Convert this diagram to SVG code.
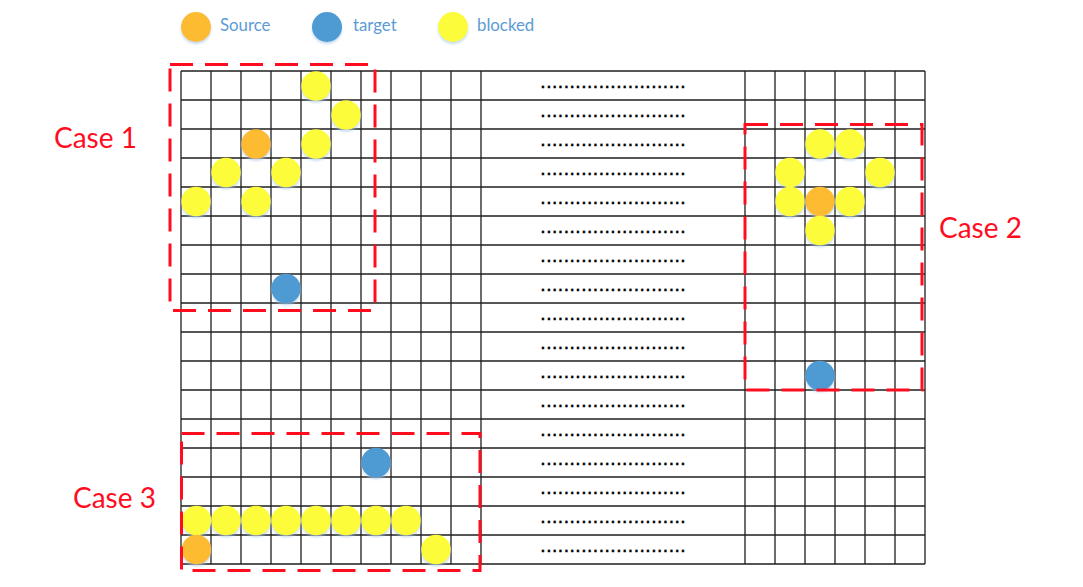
<svg xmlns="http://www.w3.org/2000/svg" width="1083" height="587" viewBox="0 0 1083 587">
<defs>
<style>
.grid line{stroke:#1e1e1e;stroke-width:1.3}
.box{fill:none;stroke:#ff0d1f;stroke-width:3;stroke-dasharray:23 12}
.src{fill:#fdbb33}
.tgt{fill:#4e9bd2}
.blk{fill:#fdfc3a}
.dots{font-family:"Liberation Sans",Arial,sans-serif;font-size:21px;fill:#000;stroke:#000;stroke-width:0.3;text-anchor:middle}
.case{font-family:Lato,"Open Sans",sans-serif;font-size:28px;fill:#ff0d1f}
.leg{font-family:Lato,"Open Sans",sans-serif;font-size:16.8px;fill:#5b9bd5}
circle{filter:url(#sh)}
</style>
<filter id="sh" x="-30%" y="-30%" width="160%" height="170%">
<feDropShadow dx="0" dy="2" stdDeviation="1.2" flood-color="#9dc3e6" flood-opacity="0.6"/>
</filter>
</defs>
<rect width="1083" height="587" fill="#fff"/>

<g id="legend">
<circle class="src" cx="196" cy="27" r="15"/>
<text class="leg" x="220" y="31">Source</text>
<circle class="tgt" cx="327" cy="27" r="15"/>
<text class="leg" x="353" y="31">target</text>
<circle class="blk" cx="453" cy="27" r="15"/>
<text class="leg" x="477" y="31">blocked</text>
</g>

<g id="grid" class="grid">
<line x1="181" y1="71" x2="925" y2="71"/>
<line x1="181" y1="100" x2="925" y2="100"/>
<line x1="181" y1="129" x2="925" y2="129"/>
<line x1="181" y1="158" x2="925" y2="158"/>
<line x1="181" y1="187" x2="925" y2="187"/>
<line x1="181" y1="216" x2="925" y2="216"/>
<line x1="181" y1="245" x2="925" y2="245"/>
<line x1="181" y1="274" x2="925" y2="274"/>
<line x1="181" y1="303" x2="925" y2="303"/>
<line x1="181" y1="332" x2="925" y2="332"/>
<line x1="181" y1="361" x2="925" y2="361"/>
<line x1="181" y1="390" x2="925" y2="390"/>
<line x1="181" y1="419" x2="925" y2="419"/>
<line x1="181" y1="448" x2="925" y2="448"/>
<line x1="181" y1="477" x2="925" y2="477"/>
<line x1="181" y1="506" x2="925" y2="506"/>
<line x1="181" y1="535" x2="925" y2="535"/>
<line x1="181" y1="564" x2="925" y2="564"/>
<line x1="181" y1="71" x2="181" y2="564"/>
<line x1="211" y1="71" x2="211" y2="564"/>
<line x1="241" y1="71" x2="241" y2="564"/>
<line x1="271" y1="71" x2="271" y2="564"/>
<line x1="301" y1="71" x2="301" y2="564"/>
<line x1="331" y1="71" x2="331" y2="564"/>
<line x1="361" y1="71" x2="361" y2="564"/>
<line x1="391" y1="71" x2="391" y2="564"/>
<line x1="421" y1="71" x2="421" y2="564"/>
<line x1="451" y1="71" x2="451" y2="564"/>
<line x1="481" y1="71" x2="481" y2="564"/>
<line x1="745" y1="71" x2="745" y2="564"/>
<line x1="775" y1="71" x2="775" y2="564"/>
<line x1="805" y1="71" x2="805" y2="564"/>
<line x1="835" y1="71" x2="835" y2="564"/>
<line x1="865" y1="71" x2="865" y2="564"/>
<line x1="895" y1="71" x2="895" y2="564"/>
<line x1="925" y1="71" x2="925" y2="564"/>
</g>

<g id="ellipsis">
<text class="dots" x="613" y="88">.........................</text>
<text class="dots" x="613" y="117">.........................</text>
<text class="dots" x="613" y="146">.........................</text>
<text class="dots" x="613" y="175">.........................</text>
<text class="dots" x="613" y="204">.........................</text>
<text class="dots" x="613" y="233">.........................</text>
<text class="dots" x="613" y="262">.........................</text>
<text class="dots" x="613" y="291">.........................</text>
<text class="dots" x="613" y="320">.........................</text>
<text class="dots" x="613" y="349">.........................</text>
<text class="dots" x="613" y="378">.........................</text>
<text class="dots" x="613" y="407">.........................</text>
<text class="dots" x="613" y="436">.........................</text>
<text class="dots" x="613" y="465">.........................</text>
<text class="dots" x="613" y="494">.........................</text>
<text class="dots" x="613" y="523">.........................</text>
<text class="dots" x="613" y="552">.........................</text>
</g>

<g id="case1">
<circle class="blk" cx="316" cy="86" r="14.7"/>
<circle class="blk" cx="346" cy="115" r="14.7"/>
<circle class="src" cx="256" cy="144" r="14.7"/>
<circle class="blk" cx="316" cy="144" r="14.7"/>
<circle class="blk" cx="226" cy="172.5" r="14.7"/>
<circle class="blk" cx="286" cy="172.5" r="14.7"/>
<circle class="blk" cx="196" cy="201.5" r="14.7"/>
<circle class="blk" cx="256" cy="201.5" r="14.7"/>
<circle class="tgt" cx="286" cy="288.5" r="14.7"/>
<rect class="box" x="170" y="64.5" width="205" height="246"/>
<text class="case" x="54" y="148">Case 1</text>
</g>

<g id="case2">
<circle class="blk" cx="820" cy="144" r="14.7"/>
<circle class="blk" cx="850" cy="144" r="14.7"/>
<circle class="blk" cx="790" cy="172.5" r="14.7"/>
<circle class="blk" cx="880" cy="172.5" r="14.7"/>
<circle class="blk" cx="790" cy="201.5" r="14.7"/>
<circle class="blk" cx="850" cy="201.5" r="14.7"/>
<circle class="src" cx="820" cy="201.5" r="14.7"/>
<circle class="blk" cx="820" cy="230.5" r="14.7"/>
<circle class="tgt" cx="820" cy="375.5" r="14.7"/>
<rect class="box" x="745" y="124.5" width="177" height="265.5"/>
<text class="case" x="939" y="238">Case 2</text>
</g>

<g id="case3">
<circle class="tgt" cx="376" cy="462.5" r="14.7"/>
<circle class="blk" cx="406" cy="520.5" r="14.7"/>
<circle class="blk" cx="376" cy="520.5" r="14.7"/>
<circle class="blk" cx="346" cy="520.5" r="14.7"/>
<circle class="blk" cx="316" cy="520.5" r="14.7"/>
<circle class="blk" cx="286" cy="520.5" r="14.7"/>
<circle class="blk" cx="256" cy="520.5" r="14.7"/>
<circle class="blk" cx="226" cy="520.5" r="14.7"/>
<circle class="blk" cx="196.5" cy="520.5" r="14.7"/>
<circle class="src" cx="196.5" cy="549.5" r="14.7"/>
<circle class="blk" cx="436" cy="549.5" r="14.7"/>
<rect class="box" x="181.5" y="433.5" width="298.5" height="137"/>
<text class="case" x="73" y="508">Case 3</text>
</g>
</svg>
